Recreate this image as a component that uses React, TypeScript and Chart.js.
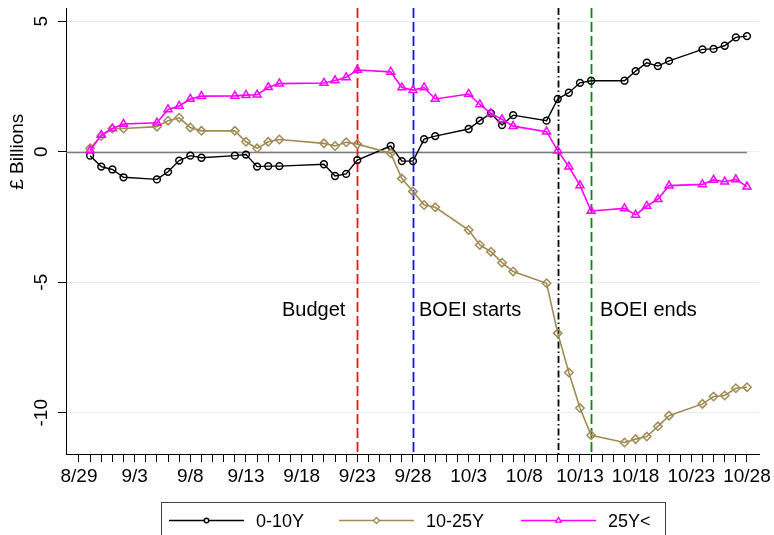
import React, { useEffect, useRef } from 'react';
import { Chart, registerables } from 'chart.js';
Chart.register(...registerables);

// ---- data ----
const dates = ["8/30","8/31","9/1","9/2","9/5","9/6","9/7","9/8","9/9","9/12","9/13","9/14","9/15","9/16","9/20","9/21","9/22","9/23","9/26","9/27","9/28","9/29","9/30","10/3","10/4","10/5","10/6","10/7","10/10","10/11","10/12","10/13","10/14","10/17","10/18","10/19","10/20","10/21","10/24","10/25","10/26","10/27","10/28"];
const short0to10 = [-0.15,-0.57,-0.68,-0.98,-1.06,-0.77,-0.34,-0.15,-0.23,-0.15,-0.11,-0.57,-0.55,-0.55,-0.48,-0.93,-0.85,-0.32,0.22,-0.36,-0.36,0.48,0.60,0.87,1.19,1.47,1.02,1.40,1.19,2.02,2.26,2.64,2.72,2.72,3.09,3.41,3.28,3.48,3.92,3.94,4.06,4.38,4.43];
const mid10to25 = [0.13,0.60,0.89,0.89,0.96,1.19,1.30,0.93,0.80,0.80,0.38,0.13,0.38,0.47,0.32,0.22,0.36,0.29,-0.06,-1.03,-1.52,-2.04,-2.13,-3.00,-3.57,-3.83,-4.25,-4.59,-5.04,-6.95,-8.46,-9.82,-10.86,-11.14,-11.01,-10.91,-10.52,-10.11,-9.66,-9.38,-9.34,-9.06,-9.02];
const long25plus = [0.05,0.64,0.89,1.06,1.11,1.62,1.75,2.02,2.13,2.14,2.17,2.18,2.47,2.61,2.63,2.73,2.85,3.13,3.06,2.46,2.36,2.46,2.02,2.21,1.81,1.47,1.24,0.98,0.77,0.04,-0.57,-1.29,-2.27,-2.17,-2.42,-2.08,-1.82,-1.30,-1.25,-1.08,-1.15,-1.06,-1.34];
const seriesLabels = ["0-10Y", "10-25Y", "25Y<"];
const xTickLabels = ["8/29","9/3","9/8","9/13","9/18","9/23","9/28","10/3","10/8","10/13","10/18","10/23","10/28"];
const yTicks = [-10, -5, 0, 5];
const eventDates = ["9/23", "9/28", "10/11", "10/14"];
const eventLabels = ["Budget", "BOEI starts", "", "BOEI ends"];
const yTitle = "£ Billions";

// ---- helpers ----
const baseDate = "8/29";
function dayOf(s: string): number {
  const [m, d] = s.split('/').map(Number);
  const [bm, bd] = baseDate.split('/').map(Number);
  return Math.round((Date.UTC(2022, m - 1, d) - Date.UTC(2022, bm - 1, bd)) / 86400000);
}
const FONT = "'Liberation Sans', Arial, Helvetica, sans-serif";

// styles
const seriesColors = ["#000000", "#a08b55", "#ff00ff"];
const seriesStyles = ["circle", "rectRot", "triangle"];
const seriesRadius = [3.4, 4.2, 4.6];
const eventColors = ["#f01414", "#1414f0", "#000000", "#0a8a0a"];
const eventDashes = [[10, 4], [10, 4], [7, 3, 1.5, 3], [10, 4]];
const annotationPlacement = [
  { dx: -12, align: 'right' as CanvasTextAlign },
  { dx: 6, align: 'left' as CanvasTextAlign },
  { dx: 0, align: 'left' as CanvasTextAlign },
  { dx: 9, align: 'left' as CanvasTextAlign },
];
const annotationY = -6;

const overlay = {
  id: 'overlay',
  beforeDatasetsDraw(chart: any) {
    const { ctx, chartArea, scales } = chart;
    const x = scales.x, y = scales.y;
    ctx.save();
    // zero line
    ctx.strokeStyle = '#7a7a7a';
    ctx.lineWidth = 1.3;
    ctx.beginPath();
    const y0 = Math.round(y.getPixelForValue(0)) + 0.5;
    ctx.moveTo(chartArea.left, y0);
    ctx.lineTo(x.getPixelForValue(dayOf(dates[dates.length - 1])), y0);
    ctx.stroke();
    // event lines
    eventDates.forEach((d, i) => {
      const px = Math.round(x.getPixelForValue(dayOf(d))) + 0.5;
      ctx.strokeStyle = eventColors[i];
      ctx.lineWidth = 1.8;
      ctx.setLineDash(eventDashes[i]);
      ctx.beginPath();
      ctx.moveTo(px, chartArea.top);
      ctx.lineTo(px, chartArea.bottom);
      ctx.stroke();
    });
    ctx.restore();
  },
  afterDraw(chart: any) {
    const { ctx, scales } = chart;
    const x = scales.x, y = scales.y;
    ctx.save();
    // annotations
    ctx.fillStyle = '#000';
    ctx.font = `20px ${FONT}`;
    ctx.textBaseline = 'alphabetic';
    eventDates.forEach((d, i) => {
      if (!eventLabels[i]) return;
      const px = x.getPixelForValue(dayOf(d)) + annotationPlacement[i].dx;
      ctx.textAlign = annotationPlacement[i].align;
      ctx.fillText(eventLabels[i], px, y.getPixelForValue(annotationY) + 7.2);
    });
    // y title
    ctx.save();
    ctx.translate(18, y.getPixelForValue(0));
    ctx.rotate(-Math.PI / 2);
    ctx.textAlign = 'center';
    ctx.textBaseline = 'middle';
    ctx.font = `19px ${FONT}`;
    ctx.fillText(yTitle, 0, 0);
    ctx.restore();
    // legend
    const boxX = 161, boxY = 502, boxW = 504, boxH = 60;
    ctx.strokeStyle = '#404040';
    ctx.lineWidth = 1;
    ctx.strokeRect(boxX + 0.5, boxY + 0.5, boxW, boxH);
    const lineStarts = [169, 339, 521];
    const lineLen = 75;
    const textGap = 12;
    const ly = 520.5;
    ctx.font = `18px ${FONT}`;
    ctx.textAlign = 'left';
    ctx.textBaseline = 'alphabetic';
    chart.data.datasets.forEach((ds: any, i: number) => {
      const sx = lineStarts[i];
      ctx.strokeStyle = ds.borderColor;
      ctx.lineWidth = 1.6;
      ctx.beginPath();
      ctx.moveTo(sx, ly);
      ctx.lineTo(sx + lineLen, ly);
      ctx.stroke();
      ctx.lineWidth = 1.4;
      const cx = sx + lineLen / 2;
      ctx.beginPath();
      if (ds.pointStyle === 'circle') {
        ctx.arc(cx, ly, 2.2, 0, Math.PI * 2);
      } else if (ds.pointStyle === 'rectRot') {
        const r = 3;
        ctx.moveTo(cx, ly - r); ctx.lineTo(cx + r, ly); ctx.lineTo(cx, ly + r); ctx.lineTo(cx - r, ly); ctx.closePath();
      } else {
        const r = 3.2;
        ctx.moveTo(cx, ly - r); ctx.lineTo(cx + r * 0.866, ly + r / 2); ctx.lineTo(cx - r * 0.866, ly + r / 2); ctx.closePath();
      }
      ctx.fillStyle = '#fff';
      ctx.fill();
      ctx.stroke();
      ctx.fillStyle = '#000';
      ctx.fillText(ds.label, sx + lineLen + textGap, ly + 6.5);
    });
    ctx.restore();
  },
};

export default function App() {
  const ref = useRef<HTMLCanvasElement | null>(null);
  useEffect(() => {
    if (!ref.current) return;
    const xs = dates.map(dayOf);
    const seriesValues = [short0to10, mid10to25, long25plus];
    const datasets = seriesValues.map((vals, i) => ({
      label: seriesLabels[i],
      data: vals.map((v, k) => ({ x: xs[k], y: v })),
      borderColor: seriesColors[i],
      backgroundColor: 'rgba(0,0,0,0)',
      borderWidth: i === 0 ? 1.4 : 1.6,
      pointStyle: seriesStyles[i],
      pointRadius: seriesRadius[i],
      pointBorderWidth: 1.5,
      pointBorderColor: seriesColors[i],
      pointBackgroundColor: 'rgba(0,0,0,0)',
      tension: 0,
      fill: false,
      order: 2 - i,
    }));
    const allDays: number[] = [];
    for (let d = 0; d <= dayOf(xTickLabels[xTickLabels.length - 1]); d++) allDays.push(d);
    const chart = new Chart(ref.current, {
      type: 'line',
      data: { datasets },
      options: {
        animation: false,
        responsive: false,
        devicePixelRatio: 1,
        layout: { padding: { top: 8, right: 14, bottom: 0, left: 0 } },
        plugins: { legend: { display: false }, tooltip: { enabled: false } },
        scales: {
          x: {
            type: 'linear',
            min: -1.166,
            max: 61.1,
            bounds: 'data',
            afterBuildTicks: (s: any) => { s.ticks = allDays.map(v => ({ value: v })); },
            afterFit: (s: any) => { s.height = 81; },
            ticks: {
              autoSkip: false, maxRotation: 0, minRotation: 0, padding: 3,
              color: '#000', font: { size: 19, family: FONT },
              callback: (v: any) => (v % 5 === 0 ? xTickLabels[v / 5] : ''),
            },
            grid: { drawOnChartArea: false, tickColor: '#000', tickLength: 8, color: '#000' },
            border: { color: '#000', width: 1 },
          },
          y: {
            type: 'linear',
            min: -11.58,
            max: 5.506,
            bounds: 'data',
            afterBuildTicks: (s: any) => { s.ticks = yTicks.map(v => ({ value: v })); },
            afterFit: (s: any) => { s.width = 66; s.paddingTop = 0; s.paddingBottom = 0; },
            ticks: {
              minRotation: 90, maxRotation: 90, crossAlign: 'center', padding: 3,
              color: '#000', font: { size: 19, family: FONT },
            },
            grid: { color: '#e6eef0', tickColor: '#000', tickLength: 8, lineWidth: 1 },
            border: { color: '#000', width: 1 },
          },
        },
      } as any,
      plugins: [overlay],
    });
    return () => chart.destroy();
  }, []);
  return (
    <div style={{ position: 'absolute', left: 0, top: 0, width: 774, height: 535, background: '#fff' }}>
      <canvas ref={ref} width={774} height={535} style={{ display: 'block', width: 774, height: 535 }} />
    </div>
  );
}
